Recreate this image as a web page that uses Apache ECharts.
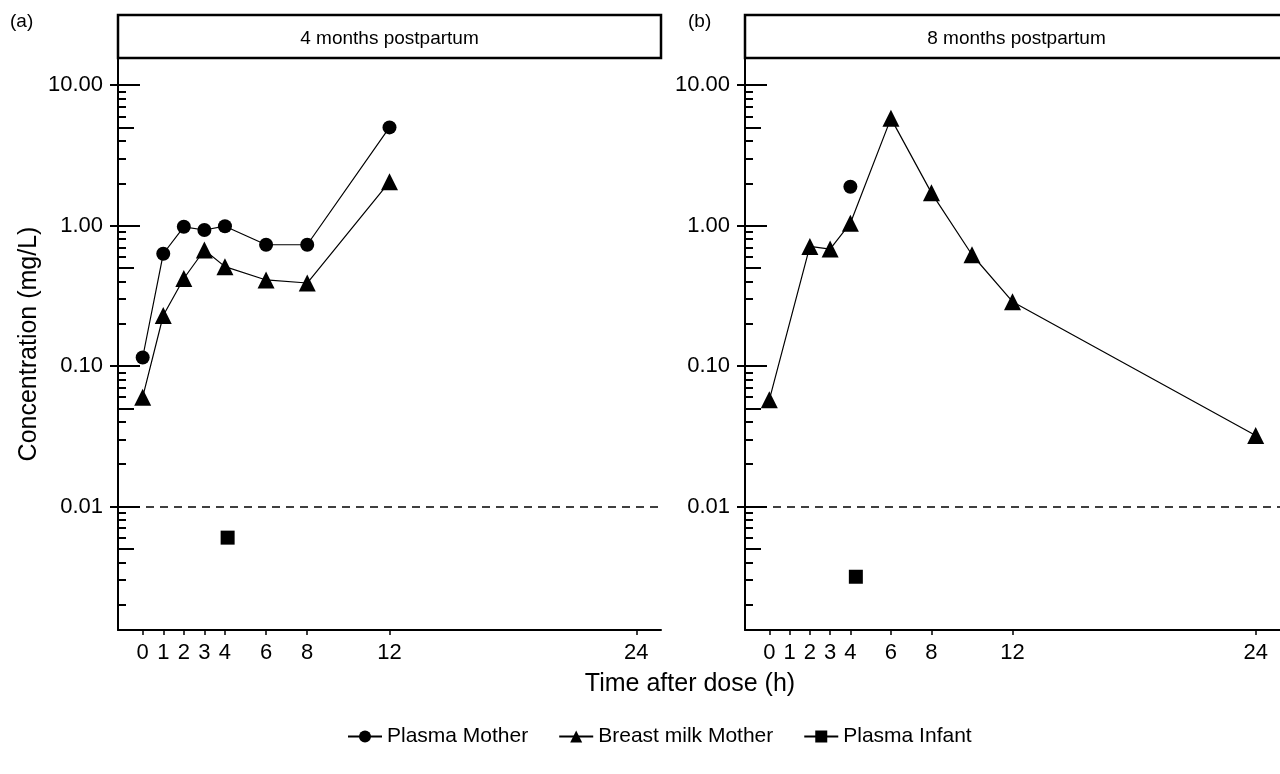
<!DOCTYPE html>
<html><head><meta charset="utf-8">
<script src="https://cdn.jsdelivr.net/npm/echarts@6/dist/echarts.min.js"></script>
<style>html,body{margin:0;padding:0;background:#fff}#c{width:1280px;height:774px}</style>
</head><body><div id="c"></div>
<script>
// ---- data ----
const panelTitles = ['4 months postpartum', '8 months postpartum'];
const panelTags = ['(a)', '(b)'];
const seriesNames = ['Plasma Mother', 'Breast milk Mother', 'Plasma Infant'];
const xTickValues = [0, 1, 2, 3, 4, 6, 8, 12, 24];
const yMajorTicks = [0.01, 0.1, 1, 10];
const yMidTicks = [0.005, 0.05, 0.5, 5];
const yMinorTicks = [0.002, 0.003, 0.004, 0.006, 0.007, 0.008, 0.009,
  0.02, 0.03, 0.04, 0.06, 0.07, 0.08, 0.09,
  0.2, 0.3, 0.4, 0.6, 0.7, 0.8, 0.9,
  2, 3, 4, 6, 7, 8, 9];
const loqValue = 0.01;

const timeA_plasma = [0, 1, 2, 3, 4, 6, 8, 12];
const plasmaMotherA = [0.115, 0.63, 0.98, 0.93, 0.99, 0.73, 0.73, 5.0];
const timeA_milk = [0, 1, 2, 3, 4, 6, 8, 12];
const milkMotherA = [0.06, 0.229, 0.42, 0.67, 0.51, 0.41, 0.39, 2.05];
const timeA_infant = [4.13];
const plasmaInfantA = [0.006];

const timeB_plasma = [4];
const plasmaMotherB = [1.89];
const timeB_milk = [0, 2, 3, 4, 6, 8, 10, 12, 24];
const milkMotherB = [0.0575, 0.71, 0.68, 1.04, 5.8, 1.71, 0.62, 0.287, 0.032];
const timeB_infant = [4.27];
const plasmaInfantB = [0.00316];

// ---- layout ----
const FONT = 'Liberation Sans, Arial, sans-serif';
const X_MIN = -1.2, X_MAX = 25.2;
const Y_MIN = 0.00132, Y_MAX = 15.6;
const grids = [
  { left: 118, top: 58, width: 543, height: 572 },
  { left: 745, top: 58, width: 543, height: 572 }
];

function pairs(xs, ys) { return xs.map((x, i) => [x, ys[i]]); }

const xAxes = grids.map((g, gi) => ({
  type: 'value', gridIndex: gi, position: 'bottom', min: X_MIN, max: X_MAX,
  splitLine: { show: false },
  axisLine: { show: true, onZero: false, lineStyle: { color: '#000', width: 2 } },
  axisTick: { show: true, length: 5, customValues: xTickValues, lineStyle: { color: '#000', width: 1.5 } },
  axisLabel: { customValues: xTickValues, color: '#000', fontSize: 22, fontFamily: FONT, margin: 12 }
}));

const yAxes = [];
const mainY = [];
grids.forEach((g, gi) => {
  mainY.push(yAxes.length);
  yAxes.push({
    type: 'log', logBase: 10, gridIndex: gi, position: 'left', min: Y_MIN, max: Y_MAX,
    splitLine: { show: false },
    axisLine: { show: true, onZero: false, lineStyle: { color: '#000', width: 2 } },
    axisTick: { show: true, inside: false, length: 8, customValues: yMajorTicks, lineStyle: { color: '#000', width: 2 } },
    axisLabel: { customValues: yMajorTicks, color: '#000', fontSize: 22, fontFamily: FONT, margin: 15,
      formatter: v => Number(v).toFixed(2) },
    name: gi === 0 ? 'Concentration (mg/L)' : '', nameLocation: 'middle', nameGap: 76,
    nameTextStyle: { color: '#000', fontSize: 25, fontFamily: FONT }
  });
  const overlay = (vals, len) => ({
    type: 'log', logBase: 10, gridIndex: gi, position: 'left', min: Y_MIN, max: Y_MAX,
    splitLine: { show: false }, axisLine: { show: false, onZero: false },
    axisTick: { show: true, inside: true, length: len, customValues: vals, lineStyle: { color: '#000', width: 2 } },
    axisLabel: { show: false }
  });
  yAxes.push(overlay(yMajorTicks, 22));
  yAxes.push(overlay(yMidTicks, 16));
  yAxes.push(overlay(yMinorTicks, 8));
});

const lineBase = { type: 'line', lineStyle: { color: '#000', width: 1.2 }, itemStyle: { color: '#000' }, z: 3 };
const panelData = [
  [pairs(timeA_plasma, plasmaMotherA), pairs(timeA_milk, milkMotherA), pairs(timeA_infant, plasmaInfantA)],
  [pairs(timeB_plasma, plasmaMotherB), pairs(timeB_milk, milkMotherB), pairs(timeB_infant, plasmaInfantB)]
];
const symbols = [['circle', 14], ['triangle', 17], ['rect', 14]];
const series = [];
panelData.forEach((sets, gi) => {
  sets.forEach((d, si) => {
    const s = Object.assign({}, lineBase, {
      name: seriesNames[si], xAxisIndex: gi, yAxisIndex: mainY[gi], data: d,
      symbol: symbols[si][0], symbolSize: symbols[si][1], showSymbol: true
    });
    if (si === 0) {
      s.markLine = {
        silent: true, symbol: 'none', label: { show: false },
        lineStyle: { color: '#000', width: 1.5, type: [8, 6] },
        data: [{ yAxis: loqValue }]
      };
    }
    series.push(s);
  });
});

const graphic = [];
grids.forEach((g, gi) => {
  graphic.push({
    type: 'rect', shape: { x: g.left, y: 15, width: g.width, height: 43 },
    style: { fill: '#fff', stroke: '#000', lineWidth: 2.5 }, z: 10
  });
  graphic.push({
    type: 'text', x: g.left + g.width / 2, y: 39,
    style: { text: panelTitles[gi], fill: '#000', font: '19px ' + FONT, textAlign: 'center', textVerticalAlign: 'middle' }, z: 11
  });
});
graphic.push({ type: 'text', x: 10, y: 22, style: { text: panelTags[0], fill: '#000', font: '19px ' + FONT, textVerticalAlign: 'middle' } });
graphic.push({ type: 'text', x: 688, y: 22, style: { text: panelTags[1], fill: '#000', font: '19px ' + FONT, textVerticalAlign: 'middle' } });
graphic.push({ type: 'text', x: 690, y: 684, style: { text: 'Time after dose (h)', fill: '#000', font: '25px ' + FONT, textAlign: 'center', textVerticalAlign: 'middle' } });

const chart = echarts.init(document.getElementById('c'), null, { renderer: 'canvas' });
chart.setOption({
  backgroundColor: '#fff',
  animation: false,
  grid: grids.map(g => Object.assign({ containLabel: false }, g)),
  xAxis: xAxes,
  yAxis: yAxes,
  legend: {
    data: seriesNames, bottom: 22, left: 342, itemWidth: 34, itemHeight: 15, itemGap: 30,
    textStyle: { color: '#000', fontSize: 21, fontFamily: FONT }
  },
  series: series,
  graphic: graphic
});
</script></body></html>
